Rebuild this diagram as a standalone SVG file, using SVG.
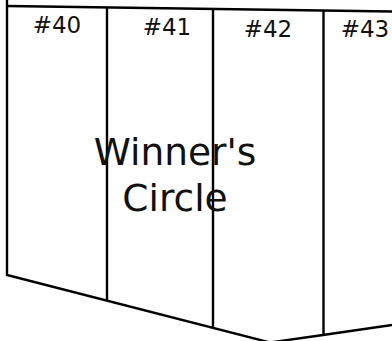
<svg xmlns="http://www.w3.org/2000/svg" width="392" height="341" viewBox="0 0 392 341">
<style>
.w{fill:none;stroke:#000;stroke-width:2.4;stroke-linecap:butt;stroke-linejoin:miter}
.l{font-family:"DejaVu Sans",sans-serif;font-size:23px;fill:#111;text-anchor:middle}
.t{font-family:"DejaVu Sans",sans-serif;font-size:37.5px;fill:#111;text-anchor:middle}
</style>
<rect width="392" height="341" fill="#fff"/>
<g id="outline" class="w">
<polyline points="7,0 7,275 270,342.5 323,335 392,325"/>
<polyline points="7,6 392,11.5"/>
</g>
<g id="connectors" class="w">
<line x1="107" y1="7.4" x2="107" y2="300"/>
<line x1="213" y1="9" x2="213" y2="327"/>
<line x1="323.5" y1="10.5" x2="323.5" y2="335"/>
</g>
<g id="stall40"><text class="l" x="57" y="33.3">#40</text></g>
<g id="stall41"><text class="l" x="167" y="35.3">#41</text></g>
<g id="stall42"><text class="l" x="268" y="37.3">#42</text></g>
<g id="stall43"><text class="l" x="365" y="37.3">#43</text></g>
<g id="winners"><text class="t" x="175" y="165">Winner's</text><text class="t" x="175" y="211">Circle</text></g>
</svg>
